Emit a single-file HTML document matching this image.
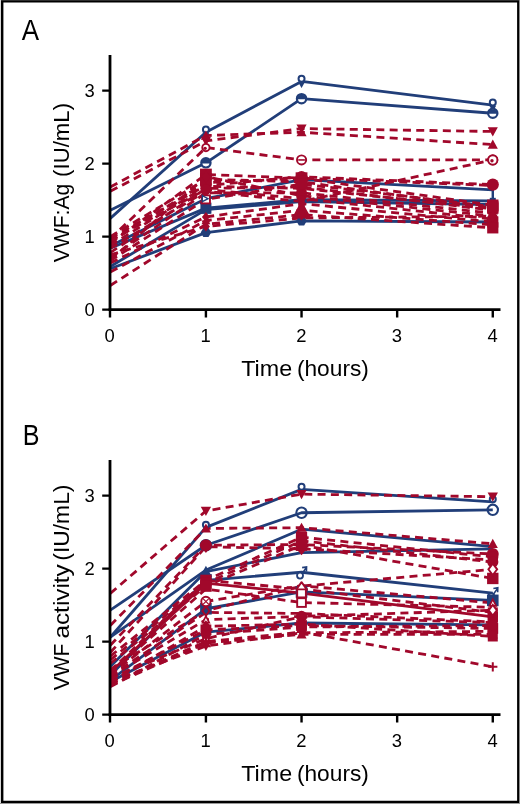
<!DOCTYPE html>
<html lang="en">
<head>
<meta charset="utf-8">
<title>VWF:Ag and VWF activity over time</title>
<style>
html,body{margin:0;padding:0;background:#fff;}
body{width:520px;height:804px;overflow:hidden;}
svg{display:block;will-change:transform;}
.tk{font-size:18.4px;}
.ax{font-size:22.4px;}
.pl{font-size:29.6px;}
</style>
</head>
<body>
<svg width="520" height="804" viewBox="0 0 520 804"><rect x="0" y="0" width="520" height="804" fill="#fff"/><g><path d="M110.3 218.35L205.92 132.21L301.54 81.48L492.78 105.2" fill="none" stroke="#213E79" stroke-width="2.8" stroke-linejoin="round"/><path d="M110.3 210.32L205.92 162.87L301.54 98.63L492.78 113.23" fill="none" stroke="#213E79" stroke-width="2.8" stroke-linejoin="round"/><path d="M110.3 246.09L205.92 198.64L301.54 179.66L492.78 189.88" fill="none" stroke="#213E79" stroke-width="2.8" stroke-linejoin="round"/><path d="M110.3 248.28L205.92 208.13L301.54 199.74L492.78 200.83" fill="none" stroke="#213E79" stroke-width="2.8" stroke-linejoin="round"/><path d="M110.3 266.53L205.92 209.59L301.54 201.56L492.78 204.48" fill="none" stroke="#213E79" stroke-width="2.8" stroke-linejoin="round"/><path d="M110.3 268.72L205.92 232.59L301.54 220.91L492.78 222" fill="none" stroke="#213E79" stroke-width="2.8" stroke-linejoin="round"/><path d="M110.3 191.34L205.92 140.97L301.54 128.56L492.78 131.48" fill="none" stroke="#A1082B" stroke-width="2.8" stroke-dasharray="8 5.3" stroke-linejoin="round"/><path d="M110.3 186.96L205.92 135.5L301.54 132.21L492.78 144.62" fill="none" stroke="#A1082B" stroke-width="2.8" stroke-dasharray="8 5.3" stroke-linejoin="round"/><path d="M110.3 238.79L205.92 147.54L301.54 159.95L492.78 159.95" fill="none" stroke="#A1082B" stroke-width="2.8" stroke-dasharray="8 5.3" stroke-linejoin="round"/><path d="M110.3 238.06L205.92 185.5L301.54 176.74L492.78 184.62" fill="none" stroke="#A1082B" stroke-width="2.8" stroke-dasharray="8 5.3" stroke-linejoin="round"/><path d="M110.3 243.17L205.92 174.55L301.54 178.2L492.78 205.21" fill="none" stroke="#A1082B" stroke-width="2.8" stroke-dasharray="8 5.3" stroke-linejoin="round"/><path d="M110.3 236.6L205.92 179.3L301.54 181.85L492.78 208.13" fill="none" stroke="#A1082B" stroke-width="2.8" stroke-dasharray="8 5.3" stroke-linejoin="round"/><path d="M110.3 248.28L205.92 191.34L301.54 201.56L492.78 159.95" fill="none" stroke="#A1082B" stroke-width="2.8" stroke-dasharray="8 5.3" stroke-linejoin="round"/><path d="M110.3 252.66L205.92 188.42L301.54 186.96L492.78 210.32" fill="none" stroke="#A1082B" stroke-width="2.8" stroke-dasharray="8 5.3" stroke-linejoin="round"/><path d="M110.3 257.77L205.92 192.8L301.54 192.8L492.78 213.24" fill="none" stroke="#A1082B" stroke-width="2.8" stroke-dasharray="8 5.3" stroke-linejoin="round"/><path d="M110.3 259.96L205.92 176.74L301.54 195.72L492.78 216.16" fill="none" stroke="#A1082B" stroke-width="2.8" stroke-dasharray="8 5.3" stroke-linejoin="round"/><path d="M110.3 240.25L205.92 189.52L301.54 198.64L492.78 219.08" fill="none" stroke="#A1082B" stroke-width="2.8" stroke-dasharray="8 5.3" stroke-linejoin="round"/><path d="M110.3 260.69L205.92 199.37L301.54 184.04L492.78 206.67" fill="none" stroke="#A1082B" stroke-width="2.8" stroke-dasharray="8 5.3" stroke-linejoin="round"/><path d="M110.3 245.36L205.92 186.23L301.54 188.42L492.78 208.86" fill="none" stroke="#A1082B" stroke-width="2.8" stroke-dasharray="8 5.3" stroke-linejoin="round"/><path d="M110.3 241.71L205.92 182.58L301.54 178.2L492.78 185.5" fill="none" stroke="#A1082B" stroke-width="2.8" stroke-dasharray="8 5.3" stroke-linejoin="round"/><path d="M110.3 262.88L205.92 216.89L301.54 203.75L492.78 222" fill="none" stroke="#A1082B" stroke-width="2.8" stroke-dasharray="8 5.3" stroke-linejoin="round"/><path d="M110.3 272L205.92 220.54L301.54 210.32L492.78 224.92" fill="none" stroke="#A1082B" stroke-width="2.8" stroke-dasharray="8 5.3" stroke-linejoin="round"/><path d="M110.3 285.51L205.92 224.19L301.54 214.7L492.78 227.84" fill="none" stroke="#A1082B" stroke-width="2.8" stroke-dasharray="8 5.3" stroke-linejoin="round"/><path d="M110.3 254.85L205.92 226.38L301.54 217.99L492.78 216.16" fill="none" stroke="#A1082B" stroke-width="2.8" stroke-dasharray="8 5.3" stroke-linejoin="round"/><circle cx="205.92" cy="129.41" r="3" fill="#fff" stroke="#213E79" stroke-width="2"/><path d="M202.52 132.81H209.32L205.92 138.61Z" fill="#213E79"/><circle cx="301.54" cy="78.68" r="3" fill="#fff" stroke="#213E79" stroke-width="2"/><path d="M298.14 82.08H304.94L301.54 87.88Z" fill="#213E79"/><circle cx="492.78" cy="102.4" r="3" fill="#fff" stroke="#213E79" stroke-width="2"/><path d="M489.38 105.8H496.18L492.78 111.6Z" fill="#213E79"/><circle cx="205.92" cy="162.87" r="4.65" fill="#fff" stroke="#213E79" stroke-width="2.1999999999999997"/><path d="M201.27 163.47A4.65 4.65 0 0 1 210.57 163.47Z" fill="#213E79"/><circle cx="301.54" cy="98.63" r="4.65" fill="#fff" stroke="#213E79" stroke-width="2.1999999999999997"/><path d="M296.89 99.23A4.65 4.65 0 0 1 306.19 99.23Z" fill="#213E79"/><circle cx="492.78" cy="113.23" r="4.65" fill="#fff" stroke="#213E79" stroke-width="2.1999999999999997"/><path d="M488.13 113.83A4.65 4.65 0 0 1 497.43 113.83Z" fill="#213E79"/><path d="M202.52 195.24V202.04L208.98 198.64Z" fill="#fff" stroke="#213E79" stroke-width="1.4"/><path d="M492.78 188.88V198.88" stroke="#213E79" stroke-width="2.4" fill="none"/><rect x="200.42" y="202.63" width="11" height="11" fill="#213E79"/><rect x="298.54" y="196.74" width="6" height="6" fill="#213E79"/><rect x="489.78" y="197.83" width="6" height="6" fill="#213E79"/><path d="M200.86 213.73L210.98 213.73L205.92 204.53Z" fill="#213E79"/><path d="M298.24 204.26L304.84 204.26L301.54 198.26Z" fill="#213E79"/><path d="M489.48 207.18L496.08 207.18L492.78 201.18Z" fill="#213E79"/><polygon points="211.12,232.59 208.52,237.09 203.32,237.09 200.72,232.59 203.32,228.08 208.52,228.08" fill="#213E79"/><polygon points="306.74,220.91 304.14,225.41 298.94,225.41 296.34,220.91 298.94,216.4 304.14,216.4" fill="#213E79"/><polygon points="497.98,222 495.38,226.5 490.18,226.5 487.58,222 490.18,217.5 495.38,217.5" fill="#213E79"/><path d="M200.86 136.83L210.98 136.83L205.92 146.03Z" fill="#A1082B"/><path d="M296.48 124.42L306.6 124.42L301.54 133.62Z" fill="#A1082B"/><path d="M487.72 127.34L497.84 127.34L492.78 136.54Z" fill="#A1082B"/><path d="M200.86 139.64L210.98 139.64L205.92 130.44Z" fill="#A1082B"/><path d="M296.48 136.35L306.6 136.35L301.54 127.15Z" fill="#A1082B"/><path d="M487.72 148.76L497.84 148.76L492.78 139.56Z" fill="#A1082B"/><circle cx="205.92" cy="147.54" r="3.65" fill="#fff" stroke="#A1082B" stroke-width="1.9"/><circle cx="205.12" cy="148.34" r="1.7" fill="#A1082B"/><circle cx="301.54" cy="159.95" r="4.55" fill="#fff" stroke="#A1082B" stroke-width="1.9"/><path d="M298.19 159.95H304.89" stroke="#A1082B" stroke-width="1.6"/><circle cx="492.78" cy="159.95" r="4.55" fill="#fff" stroke="#A1082B" stroke-width="1.9"/><path d="M489.43 159.95H496.13" stroke="#A1082B" stroke-width="1.6"/><circle cx="205.92" cy="185.5" r="5.8" fill="#A1082B"/><circle cx="301.54" cy="176.74" r="5.8" fill="#A1082B"/><circle cx="492.78" cy="184.62" r="6.1" fill="#A1082B"/><rect x="200.02" y="168.65" width="11.8" height="11.8" fill="#A1082B"/><rect x="295.64" y="172.3" width="11.8" height="11.8" fill="#A1082B"/><rect x="487.08" y="199.51" width="11.4" height="11.4" fill="#A1082B"/><rect x="200.02" y="173.4" width="11.8" height="11.8" fill="#A1082B"/><rect x="295.64" y="175.95" width="11.8" height="11.8" fill="#A1082B"/><rect x="487.08" y="202.43" width="11.4" height="11.4" fill="#A1082B"/><circle cx="492.78" cy="159.95" r="4.65" fill="#fff" stroke="#A1082B" stroke-width="1.9"/><circle cx="491.98" cy="160.75" r="1.7" fill="#A1082B"/><path d="M200.86 192.56L210.98 192.56L205.92 183.36Z" fill="#A1082B"/><path d="M296.48 191.1L306.6 191.1L301.54 181.9Z" fill="#A1082B"/><path d="M487.72 214.46L497.84 214.46L492.78 205.26Z" fill="#A1082B"/><path d="M200.86 188.66L210.98 188.66L205.92 197.86Z" fill="#A1082B"/><circle cx="301.54" cy="192.8" r="5.4" fill="#A1082B"/><path d="M487.72 209.1L497.84 209.1L492.78 218.3Z" fill="#A1082B"/><path d="M201.12 176.74L205.92 170.74L210.72 176.74L205.92 182.74Z" fill="#A1082B"/><circle cx="301.54" cy="195.72" r="5.4" fill="#A1082B"/><path d="M487.98 216.16L492.78 210.16L497.58 216.16L492.78 222.16Z" fill="#A1082B"/><circle cx="205.92" cy="189.52" r="5.3" fill="#A1082B"/><circle cx="301.54" cy="198.64" r="3.4" fill="#A1082B"/><circle cx="492.78" cy="219.08" r="5" fill="#A1082B"/><rect x="201.87" y="195.32" width="8.1" height="8.1" fill="#fff" stroke="#A1082B" stroke-width="1.9"/><rect x="295.94" y="178.44" width="11.2" height="11.2" fill="#A1082B"/><rect x="487.18" y="201.07" width="11.2" height="11.2" fill="#A1082B"/><path d="M201.92 216.89L205.92 211.89L209.92 216.89L205.92 221.89Z" fill="#A1082B"/><rect x="298.34" y="200.55" width="6.4" height="6.4" fill="#A1082B"/><rect x="487.18" y="216.4" width="11.2" height="11.2" fill="#A1082B"/><path d="M201.52 224.14L210.32 224.14L205.92 216.14Z" fill="#A1082B"/><path d="M291.64 218.42L311.44 218.42L301.54 200.42Z" fill="#A1082B"/><path d="M487.72 229.06L497.84 229.06L492.78 219.86Z" fill="#A1082B"/><path d="M201.52 220.59L210.32 220.59L205.92 228.59Z" fill="#A1082B"/><path d="M296.94 214.7L301.54 208.95L306.14 214.7L301.54 220.45Z" fill="#A1082B"/><rect x="487.18" y="222.24" width="11.2" height="11.2" fill="#A1082B"/><path d="M201.92 226.38L205.92 221.38L209.92 226.38L205.92 231.38Z" fill="#A1082B"/><path d="M487.98 216.16L492.78 210.16L497.58 216.16L492.78 222.16Z" fill="#A1082B"/><path d="M202.32 195.64V201.64L208.02 198.64Z" fill="#fff" stroke="#213E79" stroke-width="1.4"/></g><g><path d="M110.3 637.22L205.92 527.36L301.54 489.4L492.78 501.81" fill="none" stroke="#213E79" stroke-width="2.8" stroke-linejoin="round"/><path d="M110.3 610.21L205.92 545.24L301.54 512.75L492.78 509.84" fill="none" stroke="#213E79" stroke-width="2.8" stroke-linejoin="round"/><path d="M110.3 637.22L205.92 570.06L301.54 529.18L492.78 546.7" fill="none" stroke="#213E79" stroke-width="2.8" stroke-linejoin="round"/><path d="M110.3 666.42L205.92 571.52L301.54 552.54L492.78 548.89" fill="none" stroke="#213E79" stroke-width="2.8" stroke-linejoin="round"/><path d="M110.3 675.18L205.92 580.28L301.54 572.25L492.78 593.06" fill="none" stroke="#213E79" stroke-width="2.8" stroke-linejoin="round"/><path d="M110.3 680.29L205.92 608.75L301.54 591.96L492.78 600.36" fill="none" stroke="#213E79" stroke-width="2.8" stroke-linejoin="round"/><path d="M110.3 681.75L205.92 632.11L301.54 622.99L492.78 624.81" fill="none" stroke="#213E79" stroke-width="2.8" stroke-linejoin="round"/><path d="M110.3 593.42L205.92 510.93L301.54 494.14L492.78 496.7" fill="none" stroke="#A1082B" stroke-width="2.8" stroke-dasharray="8 5.3" stroke-linejoin="round"/><path d="M110.3 625.54L205.92 528.45L301.54 527.72L492.78 543.78" fill="none" stroke="#A1082B" stroke-width="2.8" stroke-dasharray="8 5.3" stroke-linejoin="round"/><path d="M110.3 645.25L205.92 545.24L301.54 544.51L492.78 554" fill="none" stroke="#A1082B" stroke-width="2.8" stroke-dasharray="8 5.3" stroke-linejoin="round"/><path d="M110.3 652.55L205.92 546.7L301.54 548.89L492.78 559.84" fill="none" stroke="#A1082B" stroke-width="2.8" stroke-dasharray="8 5.3" stroke-linejoin="round"/><path d="M110.3 670.8L205.92 580.28L301.54 589.04L492.78 612.4" fill="none" stroke="#A1082B" stroke-width="2.8" stroke-dasharray="8 5.3" stroke-linejoin="round"/><path d="M110.3 672.26L205.92 583.2L301.54 593.06L492.78 616.78" fill="none" stroke="#A1082B" stroke-width="2.8" stroke-linejoin="round"/><path d="M110.3 656.2L205.92 580.28L301.54 537.21L492.78 556.92" fill="none" stroke="#A1082B" stroke-width="2.8" stroke-dasharray="8 5.3" stroke-linejoin="round"/><path d="M110.3 659.85L205.92 583.2L301.54 540.86L492.78 562.03" fill="none" stroke="#A1082B" stroke-width="2.8" stroke-dasharray="8 5.3" stroke-linejoin="round"/><path d="M110.3 663.5L205.92 586.12L301.54 545.24L492.78 578.46" fill="none" stroke="#A1082B" stroke-width="2.8" stroke-dasharray="8 5.3" stroke-linejoin="round"/><path d="M110.3 669.34L205.92 610.94L301.54 586.12L492.78 569.33" fill="none" stroke="#A1082B" stroke-width="2.8" stroke-dasharray="8 5.3" stroke-linejoin="round"/><path d="M110.3 674.45L205.92 601.45L301.54 585.75L492.78 602.91" fill="none" stroke="#A1082B" stroke-width="2.8" stroke-dasharray="8 5.3" stroke-linejoin="round"/><path d="M110.3 676.64L205.92 619.7L301.54 616.41L492.78 610.21" fill="none" stroke="#A1082B" stroke-width="2.8" stroke-dasharray="8 5.3" stroke-linejoin="round"/><path d="M110.3 678.1L205.92 638.68L301.54 616.78L492.78 622.62" fill="none" stroke="#A1082B" stroke-width="2.8" stroke-dasharray="8 5.3" stroke-linejoin="round"/><path d="M110.3 672.99L205.92 589.04L301.54 602.55L492.78 607.29" fill="none" stroke="#A1082B" stroke-width="2.8" stroke-dasharray="8 5.3" stroke-linejoin="round"/><path d="M110.3 675.91L205.92 612.4L301.54 613.5L492.78 621.89" fill="none" stroke="#A1082B" stroke-width="2.8" stroke-dasharray="8 5.3" stroke-linejoin="round"/><path d="M110.3 679.56L205.92 629.92L301.54 625.54L492.78 628.46" fill="none" stroke="#A1082B" stroke-width="2.8" stroke-dasharray="8 5.3" stroke-linejoin="round"/><path d="M110.3 681.75L205.92 645.98L301.54 632.84L492.78 631.38" fill="none" stroke="#A1082B" stroke-width="2.8" stroke-dasharray="8 5.3" stroke-linejoin="round"/><path d="M110.3 683.94L205.92 641.6L301.54 632.11L492.78 666.78" fill="none" stroke="#A1082B" stroke-width="2.8" stroke-dasharray="8 5.3" stroke-linejoin="round"/><path d="M110.3 685.4L205.92 643.06L301.54 634.3L492.78 634.3" fill="none" stroke="#A1082B" stroke-width="2.8" stroke-dasharray="8 5.3" stroke-linejoin="round"/><path d="M110.3 686.86L205.92 634.3L301.54 627L492.78 625.54" fill="none" stroke="#A1082B" stroke-width="2.8" stroke-dasharray="8 5.3" stroke-linejoin="round"/><path d="M110.3 682.48L205.92 626.27L301.54 624.08L492.78 636.49" fill="none" stroke="#A1082B" stroke-width="2.8" stroke-dasharray="8 5.3" stroke-linejoin="round"/><circle cx="205.92" cy="524.75" r="3" fill="#fff" stroke="#213E79" stroke-width="2"/><circle cx="301.54" cy="486.8" r="3" fill="#fff" stroke="#213E79" stroke-width="2"/><circle cx="492.78" cy="499.2" r="3" fill="#fff" stroke="#213E79" stroke-width="2"/><circle cx="205.92" cy="545.24" r="5.2" fill="none" stroke="#213E79" stroke-width="2.1"/><circle cx="301.54" cy="512.75" r="5.2" fill="none" stroke="#213E79" stroke-width="2.1"/><circle cx="492.78" cy="509.84" r="5.2" fill="none" stroke="#213E79" stroke-width="2.1"/><circle cx="204.42" cy="583.58" r="3" fill="#fff" stroke="#213E79" stroke-width="1.8"/><path d="M206.52 581.48L210.52 575.88M206.52 575.68L210.92 574.88L210.82 579.48" fill="none" stroke="#213E79" stroke-width="1.6"/><circle cx="300.04" cy="575.55" r="3" fill="#fff" stroke="#213E79" stroke-width="1.8"/><path d="M302.14 573.45L306.14 567.85M302.14 567.65L306.54 566.85L306.44 571.45" fill="none" stroke="#213E79" stroke-width="1.6"/><circle cx="491.28" cy="596.36" r="3" fill="#fff" stroke="#213E79" stroke-width="1.8"/><path d="M493.38 594.26L497.38 588.66M493.38 588.46L497.78 587.66L497.68 592.26" fill="none" stroke="#213E79" stroke-width="1.6"/><rect x="200.12" y="602.95" width="11.6" height="11.6" fill="#213E79"/><rect x="295.74" y="586.16" width="11.6" height="11.6" fill="#213E79"/><rect x="486.98" y="594.56" width="11.6" height="11.6" fill="#213E79"/><path d="M201.12 632.11L205.92 626.11L210.72 632.11L205.92 638.11Z" fill="#213E79"/><path d="M296.74 622.99L301.54 616.99L306.34 622.99L301.54 628.99Z" fill="#213E79"/><path d="M487.98 624.81L492.78 618.81L497.58 624.81L492.78 630.81Z" fill="#213E79"/><path d="M199.76 576.92L212.08 576.92L205.92 565.73Z" fill="#213E79"/><path d="M200.75 506.7L211.09 506.7L205.92 516.1Z" fill="#A1082B"/><path d="M296.37 489.91L306.71 489.91L301.54 499.31Z" fill="#A1082B"/><path d="M487.61 492.47L497.95 492.47L492.78 501.87Z" fill="#A1082B"/><path d="M200.86 532.59L210.98 532.59L205.92 523.39Z" fill="#A1082B"/><path d="M296.48 531.86L306.6 531.86L301.54 522.66Z" fill="#A1082B"/><path d="M487.72 547.92L497.84 547.92L492.78 538.72Z" fill="#A1082B"/><circle cx="205.92" cy="545.24" r="6" fill="#A1082B"/><circle cx="301.54" cy="544.51" r="6" fill="#A1082B"/><circle cx="492.78" cy="554" r="6" fill="#A1082B"/><path d="M200.92 546.7L205.92 540.45L210.92 546.7L205.92 552.95Z" fill="#A1082B"/><path d="M296.54 548.89L301.54 542.64L306.54 548.89L301.54 555.14Z" fill="#A1082B"/><circle cx="492.78" cy="559.84" r="5" fill="#A1082B"/><rect x="201.87" y="576.23" width="8.1" height="8.1" fill="#fff" stroke="#A1082B" stroke-width="1.9"/><circle cx="301.54" cy="589.04" r="4.6" fill="#A1082B"/><rect x="487.78" y="607.4" width="10" height="10" fill="#A1082B"/><rect x="201.87" y="579.15" width="8.1" height="8.1" fill="#fff" stroke="#A1082B" stroke-width="1.9"/><rect x="297.19" y="588.71" width="8.7" height="8.7" fill="#fff" stroke="#A1082B" stroke-width="1.9"/><rect x="487.58" y="611.58" width="10.4" height="10.4" fill="#A1082B"/><rect x="200.32" y="574.68" width="11.2" height="11.2" fill="#A1082B"/><rect x="295.94" y="531.61" width="11.2" height="11.2" fill="#A1082B"/><circle cx="492.78" cy="556.92" r="5.6" fill="#A1082B"/><rect x="200.32" y="577.6" width="11.2" height="11.2" fill="#A1082B"/><rect x="295.94" y="535.26" width="11.2" height="11.2" fill="#A1082B"/><circle cx="492.78" cy="562.03" r="5.6" fill="#A1082B"/><rect x="200.22" y="580.42" width="11.4" height="11.4" fill="#A1082B"/><rect x="295.84" y="539.54" width="11.4" height="11.4" fill="#A1082B"/><rect x="487.08" y="572.75" width="11.4" height="11.4" fill="#A1082B"/><path d="M202.32 610.94L205.92 606.1L209.52 610.94L205.92 615.78Z" fill="none" stroke="#A1082B" stroke-width="1.9"/><path d="M488.38 569.33L492.78 563.61L497.18 569.33L492.78 575.05Z" fill="#fff" stroke="#A1082B" stroke-width="1.9"/><circle cx="205.92" cy="601.45" r="4.65" fill="#fff" stroke="#A1082B" stroke-width="1.9"/><path d="M203.04 598.57L208.8 604.33M203.04 604.33L208.8 598.57" stroke="#A1082B" stroke-width="1.2"/><path d="M296.34 589.36L306.74 589.36L301.54 582.15Z" fill="#fff" stroke="#A1082B" stroke-width="1.9" stroke-linejoin="round"/><path d="M489.48 605.91L496.08 605.91L492.78 599.31Z" fill="#fff" stroke="#A1082B" stroke-width="1.7"/><path d="M202.62 622.7L209.22 622.7L205.92 616.1Z" fill="#fff" stroke="#A1082B" stroke-width="1.7"/><circle cx="301.54" cy="616.41" r="5.6" fill="#A1082B"/><path d="M488.78 610.21L492.78 604.93L496.78 610.21L492.78 615.49Z" fill="#fff" stroke="#A1082B" stroke-width="1.9"/><circle cx="205.92" cy="638.68" r="2.85" fill="#fff" stroke="#A1082B" stroke-width="1.9"/><circle cx="492.78" cy="622.62" r="5" fill="#A1082B"/><rect x="297.19" y="598.2" width="8.7" height="8.7" fill="#fff" stroke="#A1082B" stroke-width="1.9"/><rect x="200.52" y="624.52" width="10.8" height="10.8" fill="#A1082B"/><rect x="296.14" y="620.14" width="10.8" height="10.8" fill="#A1082B"/><rect x="487.38" y="623.06" width="10.8" height="10.8" fill="#A1082B"/><path d="M200.86 641.84L210.98 641.84L205.92 651.04Z" fill="#A1082B"/><path d="M296.48 628.7L306.6 628.7L301.54 637.9Z" fill="#A1082B"/><path d="M487.72 627.24L497.84 627.24L492.78 636.44Z" fill="#A1082B"/><path d="M201.32 641.6H210.52M205.92 637V646.2" stroke="#A1082B" stroke-width="2"/><path d="M296.94 632.11H306.14M301.54 627.51V636.71" stroke="#A1082B" stroke-width="2"/><path d="M488.18 666.78H497.38M492.78 662.18V671.38" stroke="#A1082B" stroke-width="2"/><path d="M200.86 647.2L210.98 647.2L205.92 638Z" fill="#A1082B"/><path d="M296.48 638.44L306.6 638.44L301.54 629.24Z" fill="#A1082B"/><path d="M487.72 638.44L497.84 638.44L492.78 629.24Z" fill="#A1082B"/><circle cx="205.92" cy="634.3" r="5" fill="#A1082B"/><circle cx="301.54" cy="627" r="5" fill="#A1082B"/><circle cx="492.78" cy="625.54" r="5" fill="#A1082B"/><path d="M201.12 626.27L205.92 620.27L210.72 626.27L205.92 632.27Z" fill="#A1082B"/><path d="M296.74 624.08L301.54 618.08L306.34 624.08L301.54 630.08Z" fill="#A1082B"/><rect x="487.78" y="631.49" width="10" height="10" fill="#A1082B"/></g><path d="M110 54.9V311.1" stroke="#000" stroke-width="2.8" fill="none"/><path d="M108.6 309.7H500.5" stroke="#000" stroke-width="2.7" fill="none"/><path d="M102.2 309.6H109.5M102.2 236.6H109.5M102.2 163.6H109.5M102.2 90.6H109.5" stroke="#000" stroke-width="2.3" fill="none"/><path d="M110 310.6V317.5M205.92 310.6V317.5M301.54 310.6V317.5M397.16 310.6V317.5M492.78 310.6V317.5" stroke="#000" stroke-width="2.4" fill="none"/><path d="M110 459.9V716.1" stroke="#000" stroke-width="2.8" fill="none"/><path d="M108.6 714.7H500.5" stroke="#000" stroke-width="2.7" fill="none"/><path d="M102.2 714.6H109.5M102.2 641.6H109.5M102.2 568.6H109.5M102.2 495.6H109.5" stroke="#000" stroke-width="2.3" fill="none"/><path d="M110 715.6V722.5M205.92 715.6V722.5M301.54 715.6V722.5M397.16 715.6V722.5M492.78 715.6V722.5" stroke="#000" stroke-width="2.4" fill="none"/><g font-family="'Liberation Sans', Arial, sans-serif" fill="#000"><text x="94.7" y="316.4" text-anchor="end" class="tk">0</text><text x="94.7" y="243.4" text-anchor="end" class="tk">1</text><text x="94.7" y="170.4" text-anchor="end" class="tk">2</text><text x="94.7" y="97.4" text-anchor="end" class="tk">3</text><text x="109.7" y="342" text-anchor="middle" class="tk">0</text><text x="205.72" y="342" text-anchor="middle" class="tk">1</text><text x="301.34" y="342" text-anchor="middle" class="tk">2</text><text x="396.96" y="342" text-anchor="middle" class="tk">3</text><text x="492.58" y="342" text-anchor="middle" class="tk">4</text><text x="94.7" y="721.4" text-anchor="end" class="tk">0</text><text x="94.7" y="648.4" text-anchor="end" class="tk">1</text><text x="94.7" y="575.4" text-anchor="end" class="tk">2</text><text x="94.7" y="502.4" text-anchor="end" class="tk">3</text><text x="109.7" y="747" text-anchor="middle" class="tk">0</text><text x="205.72" y="747" text-anchor="middle" class="tk">1</text><text x="301.34" y="747" text-anchor="middle" class="tk">2</text><text x="396.96" y="747" text-anchor="middle" class="tk">3</text><text x="492.58" y="747" text-anchor="middle" class="tk">4</text><text y="39.8" class="pl"><tspan x="21.86" textLength="17.34" lengthAdjust="spacingAndGlyphs">A</tspan></text><text y="444.8" class="pl"><tspan x="22.71" textLength="16.77" lengthAdjust="spacingAndGlyphs">B</tspan></text><text y="375.6" class="ax"><tspan x="241.25" textLength="50.95" lengthAdjust="spacingAndGlyphs">Time</tspan> <tspan x="296.95" textLength="71.93" lengthAdjust="spacingAndGlyphs">(hours)</tspan></text><text y="780.6" class="ax"><tspan x="241.25" textLength="50.95" lengthAdjust="spacingAndGlyphs">Time</tspan> <tspan x="296.95" textLength="71.93" lengthAdjust="spacingAndGlyphs">(hours)</tspan></text><text transform="translate(69 0) rotate(-90)" class="ax"><tspan x="-262.36" textLength="78.68" lengthAdjust="spacingAndGlyphs">VWF:Ag</tspan> <tspan x="-176.9" textLength="73.94" lengthAdjust="spacingAndGlyphs">(IU/mL)</tspan></text><text transform="translate(69 0) rotate(-90)" class="ax"><tspan x="-690.34" textLength="46.58" lengthAdjust="spacingAndGlyphs">VWF</tspan> <tspan x="-638.59" textLength="74.36" lengthAdjust="spacingAndGlyphs">activity</tspan> <tspan x="-560.68" textLength="76.14" lengthAdjust="spacingAndGlyphs">(IU/mL)</tspan></text></g><rect x="0" y="0" width="1" height="804" fill="#d8d8d8"/><rect x="519" y="0" width="1" height="804" fill="#8a8a8a"/><rect x="0" y="803" width="520" height="1" fill="#999"/><path d="M1 0H519V802.9H1ZM3.4 2.6V800.8H517.1V2.6Z" fill="#000" fill-rule="evenodd"/><rect x="1" y="0" width="518" height="0.9" fill="#333"/></svg>
</body>
</html>
